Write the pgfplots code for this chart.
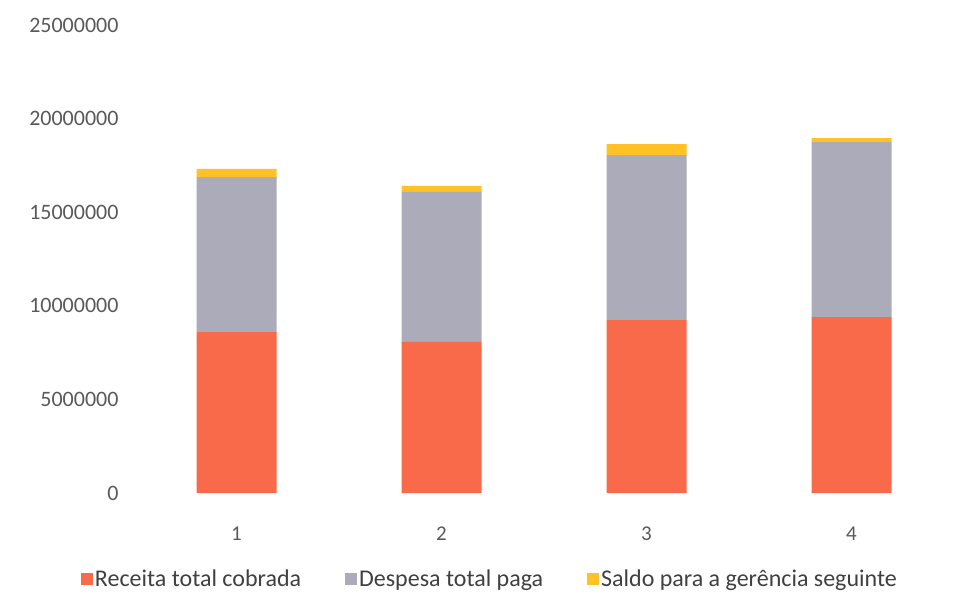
\documentclass[border=0pt]{standalone}
\usepackage{pgfplots}
\pgfplotsset{compat=1.18}
\usepackage{fontspec}
\setmainfont{Carlito}
\definecolor{cRed}{HTML}{F96A4B}
\definecolor{cGray}{HTML}{ABABB9}
\definecolor{cYel}{HTML}{FFC126}
\definecolor{cTxt}{HTML}{595959}
\definecolor{cLeg}{HTML}{404040}
\begin{document}
\begin{tikzpicture}
\begin{axis}[
  scale only axis,
  width=820pt, height=468pt,
  xmin=0.5, xmax=4.5,
  ymin=0, ymax=25000000,
  ybar stacked, bar width=80pt,
  xtick={1,2,3,4},
  xticklabels={1,2,3,4},
  ytick={0,5000000,10000000,15000000,20000000,25000000},
  scaled y ticks=false,
  /pgf/number format/fixed,
  /pgf/number format/1000 sep={},
  /pgf/number format/assume math mode=true,
  axis line style={draw=none},
  major tick length=0pt,
  tick style={draw=none},
  yticklabel style={font=\fontsize{22}{24}\selectfont, text=cTxt, xshift=-12pt},
  xticklabel style={font=\fontsize{21}{23}\selectfont, text=cTxt, yshift=-30pt},
  legend style={at={(0.434,-0.155)}, anchor=north, draw=none, fill=none,
    legend columns=3, font=\fontsize{24}{26}\selectfont, text=cLeg,
    /tikz/every even column/.append style={column sep=42pt}},
  legend image code/.code={\fill[#1] (2pt,-6pt) rectangle (14pt,6pt);},
  name=ax,
]
\addplot[fill=cRed, draw=none] coordinates {(1,8600000) (2,8070000) (3,9240000) (4,9400000)};
\addplot[fill=cGray, draw=none] coordinates {(1,8280000) (2,8010000) (3,8810000) (4,9350000)};
\addplot[fill=cYel, draw=none] coordinates {(1,430000) (2,320000) (3,590000) (4,210000)};
\legend{Receita total cobrada, Despesa total paga, Saldo para a gerência seguinte}
\end{axis}
\path[use as bounding box] ([xshift=-134pt,yshift=-107pt]ax.south west) rectangle ([xshift=18pt,yshift=25pt]ax.north east);
\end{tikzpicture}
\end{document}
